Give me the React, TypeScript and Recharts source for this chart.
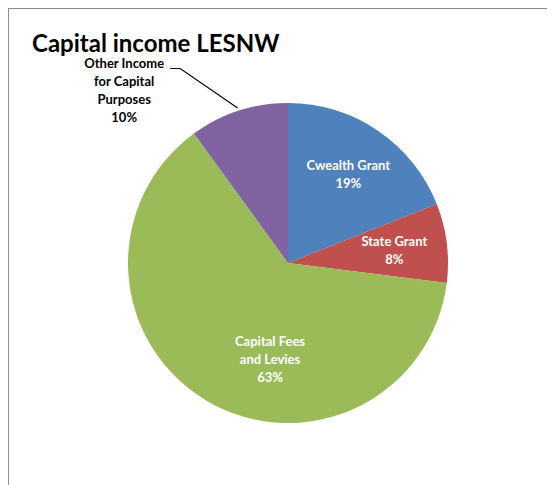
import React from "react";
import { PieChart, Pie, Cell } from "recharts";

const CATEGORIES = [
  "Cwealth Grant",
  "State Grant",
  "Capital Fees and Levies",
  "Other Income for Capital Purposes",
];
const VALUES = [19, 8, 63, 10];
const LABEL_LINES = [
  ["Cwealth Grant", "19%"],
  ["State Grant", "8%"],
  ["Capital Fees", "and Levies", "63%"],
  ["Other Income", "for Capital", "Purposes", "10%"],
];

const COLORS = ["#4F81BD", "#C0504D", "#9BBB59", "#8064A2"];
const FONT = "Lato, 'Open Sans', sans-serif";
const RAD = Math.PI / 180;

// Excel's "best fit" placement moves a couple of labels off the mid angle
const LABEL_SHIFT: Record<string, { angle: number; r: number }> = {
  "Capital Fees and Levies": { angle: 20, r: 0.61 },
};

const data = CATEGORIES.map((name, i) => ({ name, value: VALUES[i] }));

const renderLabel = (props: any) => {
  const { cx, cy, midAngle, outerRadius, index } = props;
  const lines: string[] = LABEL_LINES[index];
  const lh = 18;
  if (index === 3) {
    // outside label with leader line
    const sx = cx + (outerRadius + 3) * Math.cos(-midAngle * RAD);
    const sy = cy + (outerRadius + 3) * Math.sin(-midAngle * RAD);
    const ea = (midAngle + 11) * RAD;
    const ex = cx + outerRadius * 1.39 * Math.cos(-ea);
    const ey = cy + outerRadius * 1.39 * Math.sin(-ea);
    const hx = ex - 10;
    return (
      <g>
        <polyline points={`${sx},${sy} ${ex},${ey} ${hx},${ey}`} fill="none" stroke="#000" strokeWidth={1.2} />
        {lines.map((t, k) => (
          <text
            key={k}
            x={hx - 46}
            y={ey - 5 + k * lh}
            textAnchor="middle"
            dominantBaseline="central"
            fill="#000"
            fontFamily={FONT}
            fontWeight="bold"
            fontSize={13}
          >
            {t}
          </text>
        ))}
      </g>
    );
  }
  const shift = LABEL_SHIFT[CATEGORIES[index]] || { angle: 0, r: 0.67 };
  const a = (midAngle + shift.angle) * RAD;
  const x = cx + outerRadius * shift.r * Math.cos(-a);
  const y = cy + outerRadius * shift.r * Math.sin(-a);
  const top = y - ((lines.length - 1) * lh) / 2;
  return (
    <g>
      {lines.map((t, k) => (
        <text
          key={k}
          x={x}
          y={top + k * lh}
          textAnchor="middle"
          dominantBaseline="central"
          fill="#fff"
          fontFamily={FONT}
          fontWeight="bold"
          fontSize={13}
        >
          {t}
        </text>
      ))}
    </g>
  );
};

export default function App() {
  return (
    <div
      style={{
        position: "relative",
        width: 546,
        height: 476,
        borderLeft: "1px solid #8c8c8c",
        borderTop: "1px solid #8c8c8c",
        background: "#fff",
      }}
    >
      <div
        style={{
          position: "absolute",
          left: 23,
          top: 19,
          fontFamily: FONT,
          fontWeight: "bold",
          fontSize: 24,
          color: "#000",
          whiteSpace: "nowrap",
        }}
      >
        Capital income LESNW
      </div>
      <PieChart
        width={546}
        height={476}
        margin={{ top: 0, right: 0, bottom: 0, left: 0 }}
        style={{ position: "absolute", left: 0, top: 0 }}
      >
        <Pie
          data={data}
          dataKey="value"
          nameKey="name"
          cx={279}
          cy={254}
          outerRadius={160}
          startAngle={90}
          endAngle={-270}
          stroke="none"
          label={renderLabel}
          labelLine={false}
          isAnimationActive={false}
        >
          {data.map((d, i) => (
            <Cell key={d.name} fill={COLORS[i]} />
          ))}
        </Pie>
      </PieChart>
    </div>
  );
}
